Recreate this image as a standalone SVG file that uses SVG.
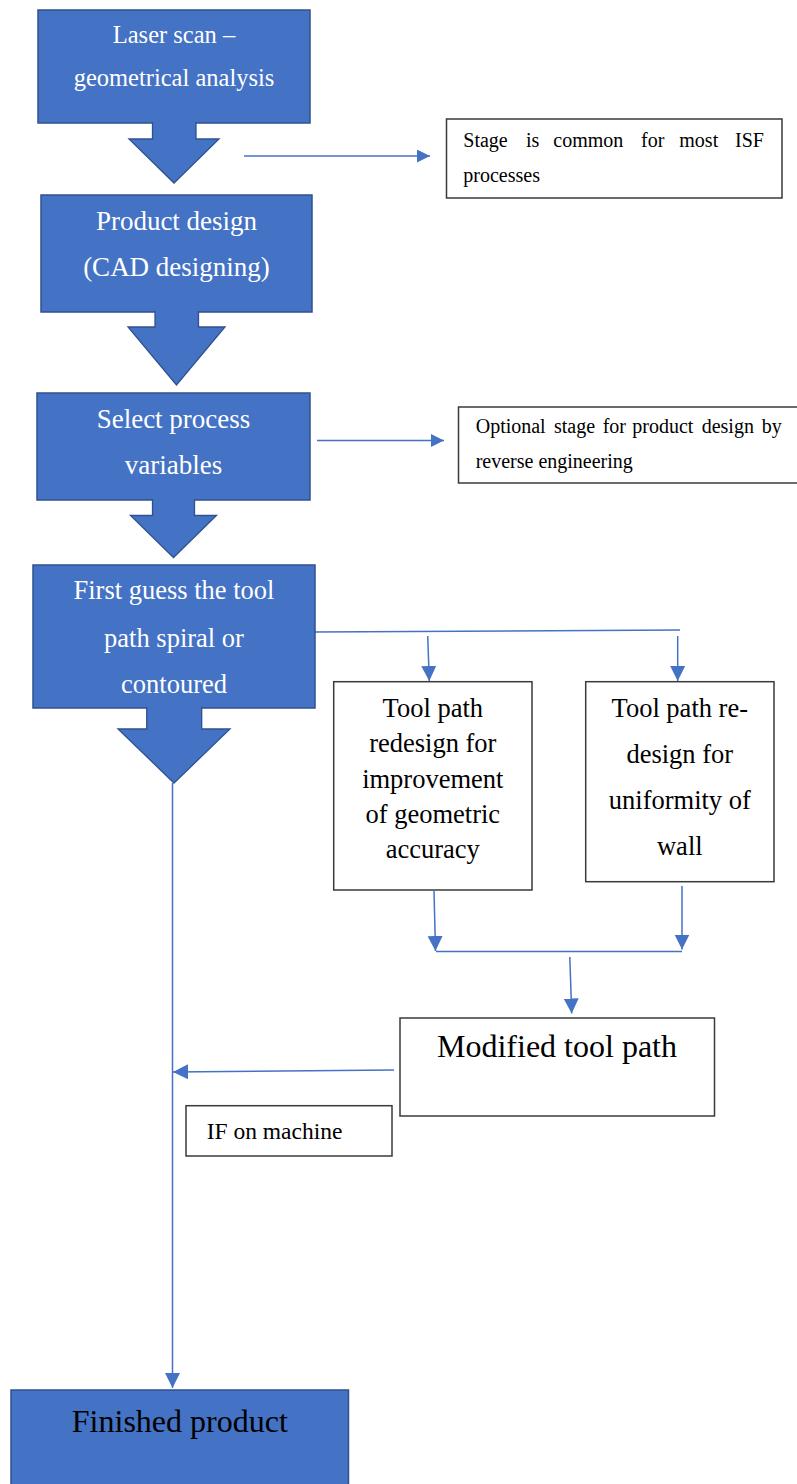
<svg xmlns="http://www.w3.org/2000/svg" width="797" height="1484" viewBox="0 0 797 1484">
<defs>
<style>
.bbox{fill:#4472C4;stroke:#2F528F;stroke-width:1.5}
.barrow{fill:#4472C4;stroke:#2F528F;stroke-width:1.3}
.wbox{fill:#FFFFFF;stroke:#3a3a3a;stroke-width:1.5}
.conn{fill:none;stroke:#4472C4;stroke-width:1.5}
.wt{font-family:"Liberation Serif","Times New Roman",serif;fill:#FFFFFF;text-anchor:middle}
.bt{font-family:"Liberation Serif","Times New Roman",serif;fill:#000000;text-anchor:middle}
.st{font-family:"Liberation Serif","Times New Roman",serif;fill:#000000;font-size:20px}
</style>
<marker id="ah" markerUnits="userSpaceOnUse" viewBox="0 0 10 10" refX="10" refY="5" markerWidth="13" markerHeight="13" orient="auto">
<path d="M0,0 L10,5 L0,10 z" fill="#4472C4"/>
</marker>
<marker id="ahL" markerUnits="userSpaceOnUse" viewBox="0 0 10 10" refX="10" refY="5" markerWidth="15" markerHeight="16" orient="auto">
<path d="M0,0 L10,5 L0,10 z" fill="#4472C4"/>
</marker>
</defs>
<rect width="797" height="1484" fill="#FFFFFF"/>

<g id="connectors">
<line class="conn" x1="244" y1="156" x2="430" y2="156" marker-end="url(#ah)"/>
<line class="conn" x1="317" y1="440.5" x2="444" y2="440.5" marker-end="url(#ah)"/>
<line class="conn" x1="315" y1="632" x2="680" y2="630"/>
<line class="conn" x1="427.7" y1="636" x2="429.3" y2="681" marker-end="url(#ahL)"/>
<line class="conn" x1="677.7" y1="636" x2="677.7" y2="681" marker-end="url(#ahL)"/>
<line class="conn" x1="434" y1="891" x2="435.5" y2="951" marker-end="url(#ahL)"/>
<line class="conn" x1="682" y1="886" x2="682" y2="949.5" marker-end="url(#ahL)"/>
<line class="conn" x1="436" y1="951.5" x2="682" y2="951.5"/>
<line class="conn" x1="569.8" y1="957" x2="571.7" y2="1013.5" marker-end="url(#ahL)"/>
<line class="conn" x1="394" y1="1070" x2="173" y2="1072" marker-end="url(#ahL)"/>
<line class="conn" x1="172.5" y1="783" x2="172.5" y2="1388" marker-end="url(#ahL)"/>
</g>

<g id="n1">
<rect class="bbox" x="38" y="10" width="272" height="113"/>
<path class="barrow" d="M152.5,122 L152.5,139 L129,139 L174,183 L219,139 L196,139 L196,122"/>
<text class="wt" font-size="24.5"><tspan x="174" y="43">Laser scan –</tspan><tspan x="174" y="86">geometrical analysis</tspan></text>
</g>

<g id="n2">
<rect class="bbox" x="41" y="195" width="271" height="117"/>
<path class="barrow" d="M155,311 L155,327 L128,327 L176.5,385 L225,327 L198.5,327 L198.5,311"/>
<text class="wt" font-size="27"><tspan x="176.5" y="230">Product design</tspan><tspan x="176.5" y="276">(CAD designing)</tspan></text>
</g>

<g id="n3">
<rect class="bbox" x="37" y="393" width="273" height="107"/>
<path class="barrow" d="M152.5,499 L152.5,515.5 L130.5,515.5 L173.5,557.5 L216.5,515.5 L194.5,515.5 L194.5,499"/>
<text class="wt" font-size="27"><tspan x="173.5" y="427.7">Select process</tspan><tspan x="173.5" y="474">variables</tspan></text>
</g>

<g id="n4">
<rect class="bbox" x="33" y="565" width="282" height="143"/>
<path class="barrow" d="M146.7,707 L146.7,729 L118,729 L174,783 L230,729 L201.7,729 L201.7,707"/>
<text class="wt" font-size="26.5"><tspan x="174" y="599.3">First guess the tool</tspan><tspan x="174" y="646.7">path spiral or</tspan><tspan x="174" y="693.3">contoured</tspan></text>
</g>

<g id="note1">
<rect class="wbox" x="446.5" y="119" width="335.5" height="79"/>
<text class="st"><tspan x="463.3" y="146.7">Stage</tspan><tspan x="526" y="146.7">is</tspan><tspan x="553.3" y="146.7">common</tspan><tspan x="641" y="146.7">for</tspan><tspan x="679.3" y="146.7">most</tspan><tspan x="735" y="146.7">ISF</tspan><tspan x="463.3" y="181.5">processes</tspan></text>
</g>

<g id="note2">
<rect class="wbox" x="458.5" y="407" width="345" height="76"/>
<text class="st"><tspan x="475.7" y="433.3">Optional</tspan><tspan x="554" y="433.3">stage</tspan><tspan x="602.7" y="433.3">for</tspan><tspan x="632.3" y="433.3">product</tspan><tspan x="701.7" y="433.3">design</tspan><tspan x="761.7" y="433.3">by</tspan><tspan x="475.7" y="468.3">reverse engineering</tspan></text>
</g>

<g id="nA">
<rect class="wbox" x="333.7" y="681.7" width="198.3" height="208.3"/>
<text class="bt" font-size="26.5"><tspan x="432.8" y="717.3">Tool path</tspan><tspan x="432.8" y="751.7">redesign for</tspan><tspan x="432.8" y="787.7">improvement</tspan><tspan x="432.8" y="822.7">of geometric</tspan><tspan x="432.8" y="858.3">accuracy</tspan></text>
</g>

<g id="nB">
<rect class="wbox" x="585.7" y="681.7" width="188.3" height="200"/>
<text class="bt" font-size="26.5"><tspan x="679.8" y="717.3">Tool path re-</tspan><tspan x="679.8" y="763.3">design for</tspan><tspan x="679.8" y="809.3">uniformity of</tspan><tspan x="679.8" y="855">wall</tspan></text>
</g>

<g id="nM">
<rect class="wbox" x="400" y="1018" width="314.5" height="98"/>
<text class="bt" font-size="32" x="557" y="1057.3">Modified tool path</text>
</g>

<g id="nIF">
<rect class="wbox" x="186" y="1105.7" width="206" height="50.3"/>
<text class="st" font-size="23.5" style="font-size:23.5px" x="206.7" y="1139.3">IF on machine</text>
</g>

<g id="nF">
<rect class="bbox" x="11" y="1390" width="337.5" height="100"/>
<text class="bt" font-size="32" x="179.8" y="1431.7">Finished product</text>
</g>
</svg>
